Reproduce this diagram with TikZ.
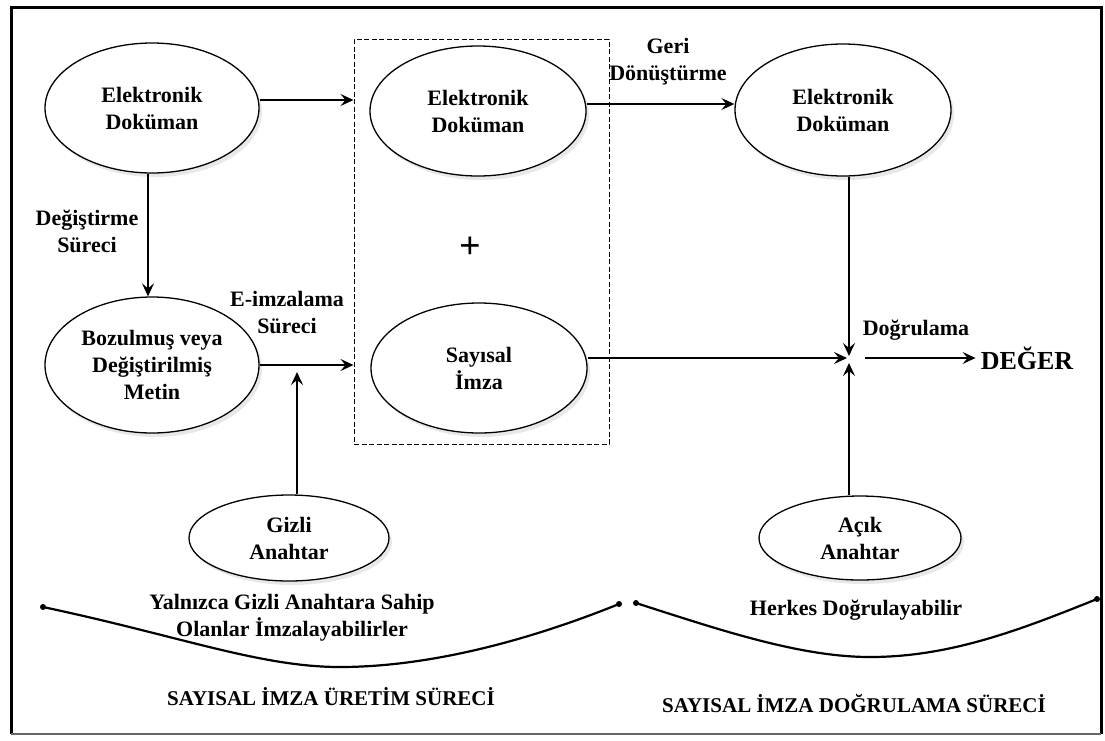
\documentclass[tikz,border=0pt]{standalone}
\usepackage{fontspec}
\setmainfont{Liberation Serif}
\usetikzlibrary{shapes.geometric,arrows.meta,shadows}
\begin{document}
\begin{tikzpicture}[x=1pt,y=-1pt,
  lbl/.style={font=\fontsize{22}{27}\selectfont\bfseries, align=center, inner sep=0pt},
  oval/.style={ellipse, draw, line width=1.3pt, fill=white, lbl,
    drop shadow={opacity=0.18, shadow xshift=3pt, shadow yshift=-4pt}},
  arr/.style={line width=1.6pt, -{Stealth[length=13pt,width=12pt,inset=5pt]}},
  dashbox/.style={draw, line width=1pt, dash pattern=on 5pt off 2.5pt, inner sep=0pt},
  brace/.style={line width=2.2pt, line cap=round},
  title/.style={lbl, font=\fontsize{21}{24}\selectfont\bfseries}
]
\useasboundingbox (0,0) rectangle (1105,740);

% outer frame
\draw[line width=3pt] (11,734) -- (11,7) -- (1101,7) -- (1101,734);
\draw[line width=2pt, black!60] (11,734) -- (1101,734);

% dashed group around the signed document
\node[dashbox, minimum width=255pt, minimum height=405pt] (box) at (481.5,241.5) {};

% process ellipses
\node[oval, minimum width=214pt, minimum height=130pt] (e1) at (152,108) {Elektronik\\Doküman};
\node[oval, minimum width=216pt, minimum height=130pt] (e2) at (478,111) {Elektronik\\Doküman};
\node[oval, minimum width=216pt, minimum height=132pt] (e3) at (843,110) {Elektronik\\Doküman};
\node[oval, minimum width=214pt, minimum height=136pt] (boz) at (152,365) {Bozulmuş veya\\Değiştirilmiş\\Metin};
\node[oval, minimum width=216pt, minimum height=130pt] (sayisal) at (479,368) {Sayısal\\İmza};
\node[oval, minimum width=200pt, minimum height=86pt] (gizli) at (289,538) {Gizli\\Anahtar};
\node[oval, minimum width=202pt, minimum height=84pt] (acik) at (860,538) {Açık\\Anahtar};

\node[font=\fontsize{38}{40}\selectfont\bfseries, inner sep=0pt] (plus) at (470,248) {+};

% connector labels
\node[lbl] (degl) at (87,231) {Değiştirme\\Süreci};
\node[lbl] (eiml) at (287,312) {E-imzalama\\Süreci};
\node[lbl] (geril) at (668,62) {Geri\\Dönüştürme};
\node[lbl] (dogl) at (916,330) {Doğrulama};
\node[lbl, font=\fontsize{26}{30}\selectfont\bfseries, inner sep=5pt] (deger) at (1027,358) {DEĞER};

% notes and section titles
\node[lbl] (yaln) at (292,618) {Yalnızca Gizli Anahtara Sahip\\Olanlar İmzalayabilirler};
\node[lbl] (herk) at (856,610) {Herkes Doğrulayabilir};
\node[title] (t1) at (331,697) {SAYISAL İMZA ÜRETİM SÜRECİ};
\node[title] (t2) at (854,703) {SAYISAL İMZA DOĞRULAMA SÜRECİ};

% junction points
\coordinate (J) at (849,358);
\coordinate (m1) at (297,367);

% connectors
\draw[arr] ([yshift=8pt]e1.east) -- ([yshift=8pt]e1.east -| box.west);
\draw[arr] ([yshift=7pt]e2.east) -- ([yshift=7pt]e2.east -| e3.west);
\draw[arr] ([xshift=-4pt]e1.south) -- ([xshift=-4pt]boz.north);
\draw[arr] (boz.east) -- (boz.east -| box.west);
\draw[arr] (gizli.north -| m1) -- ([yshift=-5pt]m1);
\draw[arr] (sayisal.east |- J) -- ([xshift=-2pt]J);
\draw[arr] (e3.south -| J) -- ([yshift=2pt]J);
\draw[arr] (acik.north -| J) -- ([yshift=-5pt]J);
\draw[arr] ([xshift=16pt]J) -- (deger.west);

% bracket curves under the two halves
\coordinate (la) at (43,607);
\coordinate (lb) at (619,604);
\coordinate (ra) at (636,603);
\coordinate (rb) at (1097,599);
\draw[brace] (la) .. controls (180,636) and (260,667) .. (340,667)
                  .. controls (430,667) and (530,640) .. (lb);
\draw[brace] (ra) .. controls (720,630) and (800,657) .. (870,657)
                  .. controls (950,657) and (1020,630) .. (rb);
\foreach \p in {la,lb,ra,rb} \fill (\p) circle (3pt);
\end{tikzpicture}
\end{document}
